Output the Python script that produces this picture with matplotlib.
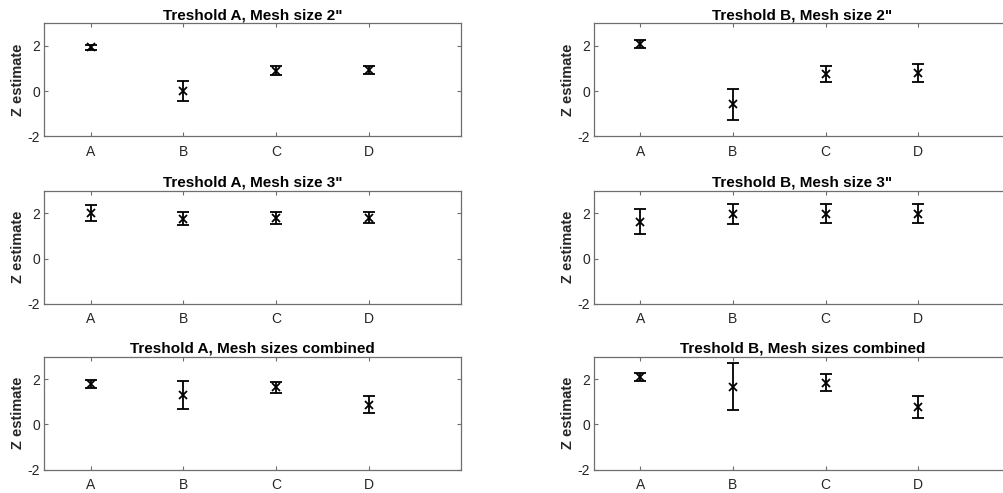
import matplotlib
matplotlib.use("Agg")
import matplotlib.pyplot as plt

plt.rcParams["font.family"] = ["Liberation Sans", "DejaVu Sans"]
plt.rcParams["axes.unicode_minus"] = False  # plain hyphen like the original

# categories and tick labels
categories = ["A", "B", "C", "D"]
positions = [1, 2, 3, 4]

# panel titles
titles = [
    "Treshold A, Mesh size 2\"",
    "Treshold B, Mesh size 2\"",
    "Treshold A, Mesh size 3\"",
    "Treshold B, Mesh size 3\"",
    "Treshold A, Mesh sizes combined",
    "Treshold B, Mesh sizes combined",
]

# Z estimates and error half-widths for each panel
a2_est = [1.94, 0.01, 0.91, 0.94]
a2_err = [0.11, 0.45, 0.19, 0.17]
b2_est = [2.09, -0.58, 0.76, 0.79]
b2_err = [0.19, 0.69, 0.35, 0.39]
a3_est = [2.01, 1.76, 1.79, 1.81]
a3_err = [0.35, 0.29, 0.26, 0.26]
b3_est = [1.63, 1.97, 1.97, 1.97]
b3_err = [0.54, 0.46, 0.42, 0.42]
ac_est = [1.79, 1.32, 1.65, 0.88]
ac_err = [0.19, 0.62, 0.25, 0.38]
bc_est = [2.09, 1.68, 1.85, 0.78]
bc_err = [0.18, 1.03, 0.38, 0.50]

panels = [
    (a2_est, a2_err), (b2_est, b2_err),
    (a3_est, a3_err), (b3_est, b3_err),
    (ac_est, ac_err), (bc_est, bc_err),
]

W, H = 1004, 493
fig = plt.figure(figsize=(W / 100, H / 100), dpi=100)

col_x = [44.3, 594]  # left edge in px
ax_w = 417
row_top = [23.3, 190.7, 356.7]
ax_h = 113

axis_gray = "#6e6e6e"
label_gray = "#262626"

for i, ((est, err), title) in enumerate(zip(panels, titles)):
    r, c = divmod(i, 2)
    left = col_x[c] / W
    bottom = 1 - (row_top[r] + ax_h) / H
    ax = fig.add_axes([left, bottom, ax_w / W, ax_h / H])

    ax.errorbar(positions, est, yerr=err, fmt="x", color="black",
                markersize=6, markeredgewidth=1.3, elinewidth=1.3,
                capsize=4, capthick=1.3)

    ax.set_xlim(0.5, 5)
    ax.set_ylim(-2, 3)
    ax.set_xticks(positions)
    ax.set_xticklabels(categories)
    ax.set_yticks([-2, 0, 2])
    ax.tick_params(direction="in", top=True, right=True, length=3,
                   width=0.8, color=axis_gray, labelcolor=label_gray,
                   labelsize=10)
    ax.tick_params(axis="x", pad=6)
    ax.tick_params(axis="y", pad=3)
    for s in ax.spines.values():
        s.set_color(axis_gray)
        s.set_linewidth(0.9)

    ax.set_title(title, fontsize=11, fontweight="bold", pad=3)
    ax.set_ylabel("Z estimate", fontsize=10.5, fontweight="bold",
                  color=label_gray, labelpad=2)

fig.savefig("out.png", dpi=100)
